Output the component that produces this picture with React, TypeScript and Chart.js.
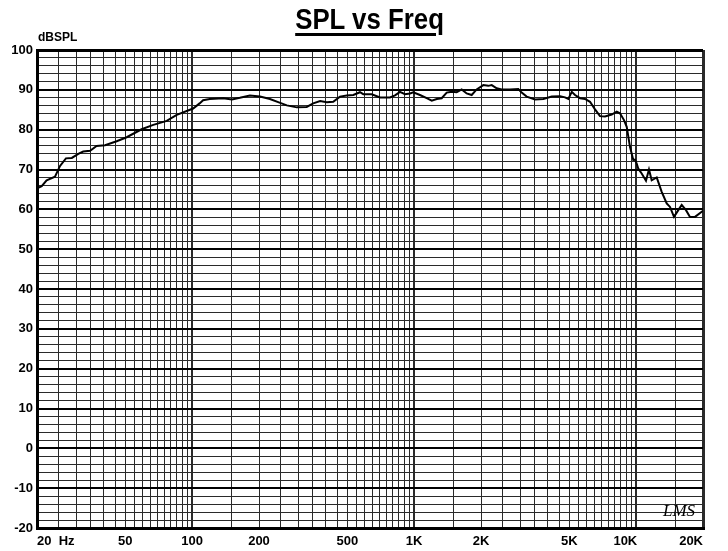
import React, { useEffect, useRef } from 'react';
import { Chart, registerables } from 'chart.js';

Chart.register(...registerables);

const TITLE = 'SPL vs Freq';
const Y_UNIT = 'dBSPL';
const WATERMARK = 'LMS';

const freqs = [
  20, 21, 22.1, 24.1, 25.4, 27, 28.7, 30.7, 32.3, 34.7, 37.1, 40.5, 45.7, 50.7, 59.2, 66.8, 76.8, 85.2,
  101, 108, 112, 120, 138, 151, 164, 182, 202, 224, 244, 267, 296, 328, 351, 377, 404, 432, 463, 497,
  532, 570, 590, 644, 702, 778, 820, 863, 909, 958, 991, 1062, 1139, 1200, 1264, 1330, 1401, 1476,
  1554, 1637, 1724, 1816, 1912, 2049, 2158, 2235, 2354, 2479, 2703, 2945, 3050, 3212, 3502, 3818,
  4166, 4540, 4780, 4948, 5127, 5303, 5585, 5883, 6195, 6525, 6872, 7239, 7758, 8172, 8453, 8814,
  9066, 9378, 9705, 9878, 10054, 10222, 10588, 11070, 11421, 11746, 12374, 13032, 13726, 14204,
  14805, 15477, 16034, 16765, 17474, 18408, 19730, 20000,
];

const spl = [
  65.3, 65.8, 67.3, 68.2, 70.9, 72.8, 72.9, 73.9, 74.5, 74.7, 75.9, 76.1, 77.1, 78.1, 80.1, 81.2, 82.2, 83.7,
  85.3, 86.6, 87.4, 87.7, 87.9, 87.6, 88.0, 88.6, 88.3, 87.7, 86.9, 86.1, 85.6, 85.7, 86.6, 87.2, 86.9, 87.0, 88.3, 88.6,
  88.7, 89.4, 88.9, 88.9, 88.1, 88.1, 88.6, 89.5, 88.9, 89.1, 89.4, 88.7, 87.9, 87.3, 87.7, 87.9, 89.3, 89.5,
  89.4, 90.1, 89.1, 88.7, 90.1, 91.2, 91.0, 91.2, 90.4, 90.1, 90.1, 90.2, 89.3, 88.3, 87.6, 87.7,
  88.3, 88.4, 88.1, 87.7, 89.5, 88.7, 87.9, 87.7, 87.0, 85.1, 83.4, 83.3, 83.8, 84.5, 84.1, 82.4,
  80.7, 75.7, 72.4, 72.5, 71.5, 70.2, 69.0, 67.2, 70.0, 67.3, 68.0, 64.4, 61.5, 60.6,
  58.1, 59.8, 61.1, 59.8, 58.1, 58.1, 59.4, 59.6,
];

// vertical grid lines (Hz)
const xGridValues = [
  20, 25, 30, 35, 40, 45, 50, 55, 60, 65, 70, 75, 80, 85, 90, 95, 100,
  150, 200, 250, 300, 350, 400, 450, 500, 550, 600, 650, 700, 750, 800, 850, 900, 950, 1000,
  1500, 2000, 2500, 3000, 3500, 4000, 4500, 5000, 5500, 6000, 6500, 7000, 7500, 8000, 8500, 9000, 9500, 10000,
  15000, 20000,
];
const xLabelValues = [20, 50, 100, 200, 500, 1000, 2000, 5000, 10000, 20000];
const xLabelTexts = ['20  Hz', '50', '100', '200', '500', '1K', '2K', '5K', '10K      ', '20K'];

// horizontal grid lines (dB)
const yGridValues = [
  -20, -18, -16, -14, -12, -10, -8, -6, -4, -2, 0, 2, 4, 6, 8, 10, 12, 14, 16, 18, 20,
  22, 24, 26, 28, 30, 32, 34, 36, 38, 40, 42, 44, 46, 48, 50, 52, 54, 56, 58, 60,
  62, 64, 66, 68, 70, 72, 74, 76, 78, 80, 82, 84, 86, 88, 90, 92, 94, 96, 98, 100,
];
const yLabelValues = [-20, -10, 0, 10, 20, 30, 40, 50, 60, 70, 80, 90, 100];

const FONT = '"Liberation Sans", Arial, sans-serif';

export default function App() {
  const canvasRef = useRef<HTMLCanvasElement | null>(null);
  useEffect(() => {
    const points = freqs.map((f, i) => ({ x: f, y: spl[i] }));
    const chart = new Chart(canvasRef.current!, {
      type: 'line',
      data: { datasets: [{ data: points, borderColor: '#000', borderWidth: 2, pointRadius: 0, tension: 0, fill: false }] },
      options: {
        animation: false,
        responsive: true,
        maintainAspectRatio: false,
        layout: { padding: { top: 50, right: 25, bottom: 0, left: 0 } },
        plugins: { legend: { display: false }, title: { display: false }, tooltip: { enabled: false } },
        scales: {
          x: {
            type: 'logarithmic', min: 20, max: 20000,
            afterBuildTicks: (s: any) => { s.ticks = xGridValues.map((v) => ({ value: v })); },
            afterFit: (s: any) => { s.height = 23; },
            ticks: {
              autoSkip: false, maxRotation: 0, minRotation: 0, align: 'inner', padding: 6, color: '#000',
              font: { family: FONT, size: 13, weight: 'bold' },
              callback: (value: any) => { const idx = xLabelValues.indexOf(Number(value)); return idx >= 0 ? xLabelTexts[idx] : ''; },
            },
            grid: {
              drawTicks: false, color: '#2a2a2a',
              lineWidth: (g: any) => { const v = g.tick ? g.tick.value : 0; if (v === 20 || v === 20000) return 3; if (v === 100 || v === 1000 || v === 10000) return 2; return 1; },
            },
            border: { display: true, width: 3, color: '#000' },
          },
          y: {
            type: 'linear',
            min: -20, max: 100,
            afterBuildTicks: (s: any) => { s.ticks = yGridValues.map((v) => ({ value: v })); },
            afterFit: (s: any) => { s.width = 37; },
            ticks: { autoSkip: false, padding: 4, color: '#000', font: { family: FONT, size: 13, weight: 'bold' }, callback: (v: any) => (yLabelValues.indexOf(Number(v)) >= 0 ? String(v) : '') },
            grid: {
              drawTicks: false,
              color: (g: any) => (g.tick && yLabelValues.indexOf(g.tick.value) >= 0 ? '#000' : '#2a2a2a'),
              lineWidth: (g: any) => {
                const v = g.tick ? g.tick.value : 0;
                if (v === -20 || v === 100) return 3;
                if (yLabelValues.indexOf(v) >= 0) return 2;
                return 1;
              },
            },
            border: { display: true, width: 3, color: '#000' },
          },
        },
      },
    } as any);
    return () => chart.destroy();
  }, []);
  return (
    <div style={{ position: 'fixed', left: 0, top: 0, width: 728, height: 551 }}>
      <canvas ref={canvasRef} />
      <div
        style={{
          position: 'absolute', left: 0, top: 5, width: 740, textAlign: 'center',
          font: 'bold 29px "Liberation Sans", Arial, sans-serif', lineHeight: '29px', color: '#000',
          pointerEvents: 'none',
        }}
      >
        <span
          style={{
            display: 'inline-block', transform: 'scaleX(0.89)', textDecoration: 'underline',
            textDecorationThickness: '2.5px', textUnderlineOffset: '4px',
          }}
        >
          {TITLE}
        </span>
      </div>
      <div
        style={{
          position: 'absolute', left: 38, top: 31, font: 'bold 12px "Liberation Sans", Arial, sans-serif',
          lineHeight: '12px', color: '#000', pointerEvents: 'none',
        }}
      >
        {Y_UNIT}
      </div>
      <div
        style={{
          position: 'absolute', left: 663, top: 502, font: 'italic 17px "Liberation Serif", serif',
          lineHeight: '17px', color: '#000', pointerEvents: 'none',
        }}
      >
        {WATERMARK}
      </div>
    </div>
  );
}
